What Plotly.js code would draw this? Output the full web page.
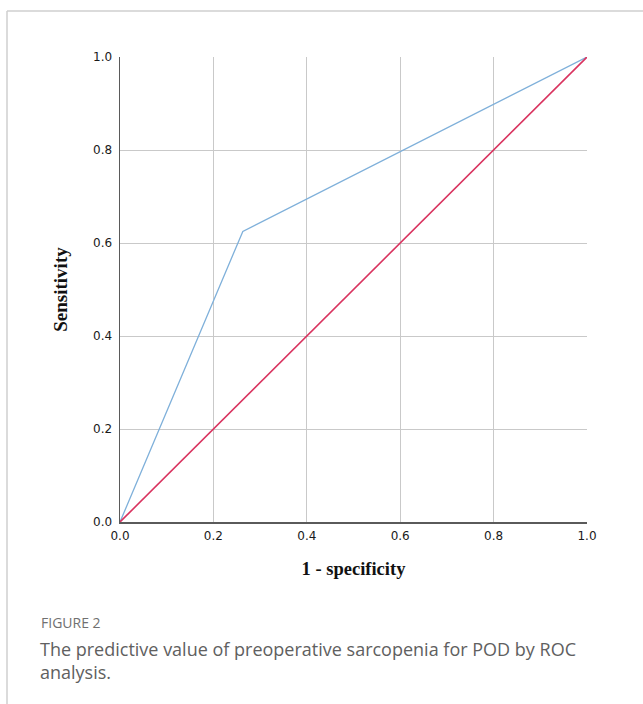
<!DOCTYPE html>
<html>
<head>
<meta charset="utf-8">
<script src="https://cdn.plot.ly/plotly-3.0.1.min.js"></script>
<style>html,body{margin:0;padding:0;background:#fff;}#chart{width:643px;height:704px;}</style>
</head>
<body>
<div id="chart"></div>
<script>
// ROC curve data
const fpr = [0, 0.263, 1];
const tpr = [0, 0.625, 1];
// reference diagonal
const refX = [0, 1];
const refY = [0, 1];
const tickVals = [0, 0.2, 0.4, 0.6, 0.8, 1.0];
const tickText = ["0.0", "0.2", "0.4", "0.6", "0.8", "1.0"];

const traces = [
  {x: fpr, y: tpr, mode: 'lines', name: 'ROC', line: {color: '#7fb0da', width: 1.3}, hoverinfo: 'x+y'},
  {x: refX, y: refY, mode: 'lines', name: 'Reference', line: {color: '#d9335f', width: 1.6}, hoverinfo: 'x+y'}
];

const axisCommon = {
  range: [0, 1], tickvals: tickVals, ticktext: tickText,
  showgrid: true, gridcolor: '#c9c9c9', gridwidth: 1,
  showline: true, linecolor: '#5a5a5a', linewidth: 1.5,
  zeroline: false, ticks: '', fixedrange: true,
  tickfont: {family: 'DejaVu Sans, sans-serif', size: 12, color: '#1a1a1a'}
};

const layout = {
  width: 643, height: 704,
  margin: {l: 120, r: 56, t: 57, b: 182},
  paper_bgcolor: '#fff', plot_bgcolor: '#fff',
  showlegend: false,
  xaxis: Object.assign({}, axisCommon, {
    title: {text: '<b>1 - specificity</b>', font: {family: 'Liberation Serif, serif', size: 18.5, color: '#111'}, standoff: 20},
    ticklabelstandoff: 2
  }),
  yaxis: Object.assign({}, axisCommon, {
    title: {text: '<b>Sensitivity</b>', font: {family: 'Liberation Serif, serif', size: 19, color: '#111'}, standoff: 20},
    ticklabelstandoff: 4
  }),
  shapes: [
    {type: 'line', xref: 'paper', yref: 'paper', x0: (7-120)/467, x1: (643-120)/467 + 0.01, y0: (522-11)/465, y1: (522-11)/465, line: {color: '#cfcfcf', width: 1.5}},
    {type: 'line', xref: 'paper', yref: 'paper', x0: (7-120)/467, x1: (7-120)/467, y0: (522-11)/465, y1: (522-710)/465, line: {color: '#cfcfcf', width: 1.5}}
  ],
  annotations: [
    {xref: 'paper', yref: 'paper', x: (39-120)/467, y: (522-622)/465, xanchor: 'left', yanchor: 'middle', showarrow: false,
     text: 'FIGURE 2', font: {family: 'Open Sans, sans-serif', size: 14, color: '#707070'}},
    {xref: 'paper', yref: 'paper', x: (38-120)/467, y: (522-660)/465, xanchor: 'left', yanchor: 'middle', showarrow: false, align: 'left',
     text: 'The predictive value of preoperative sarcopenia for POD by ROC<br>analysis.', font: {family: 'Open Sans, sans-serif', size: 18, color: '#606060'}}
  ]
};

Plotly.newPlot('chart', traces, layout, {displayModeBar: false, staticPlot: true});
</script>
</body>
</html>
